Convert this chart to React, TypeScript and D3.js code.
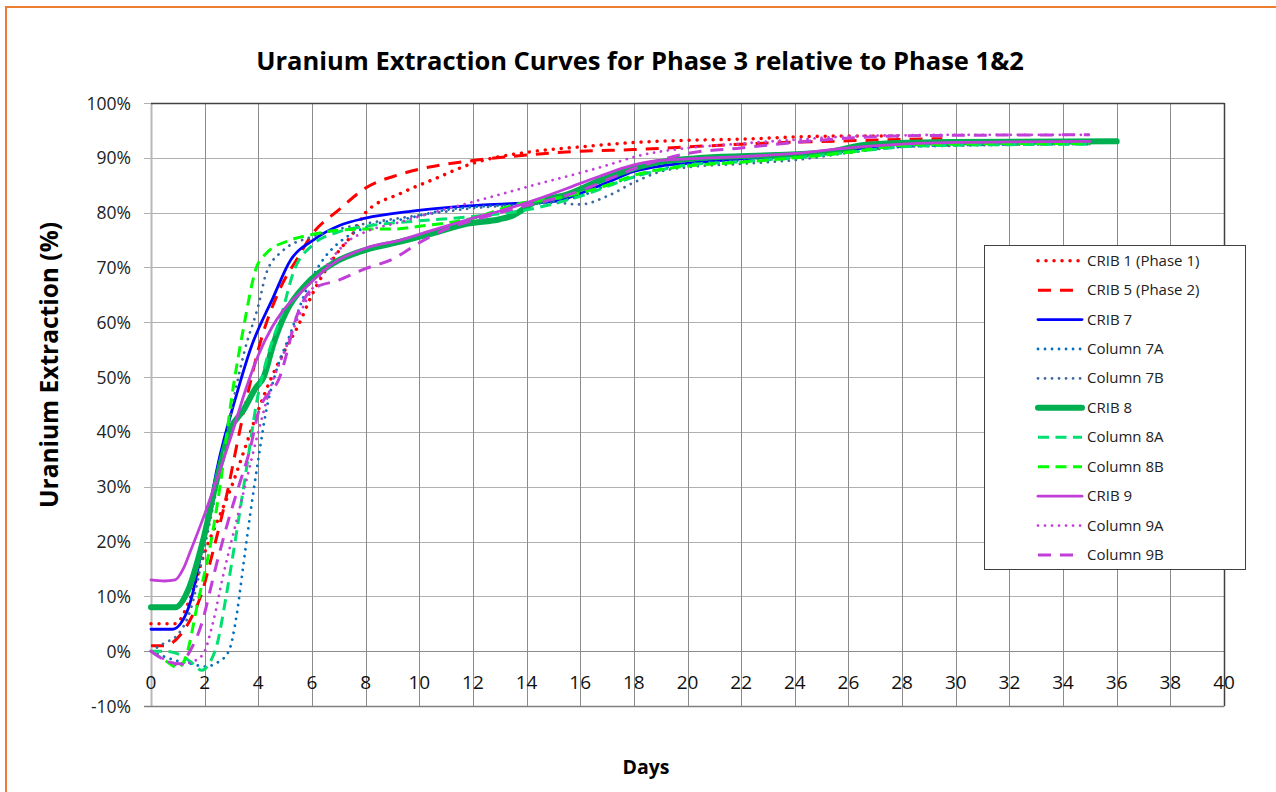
import React from "react";
import * as d3 from "d3";

type Pt = [number, number];

// ---- Data (day, % extraction) ----
const crib1: Pt[] = [[0,5],[0.9,5],[1.45,9.5],[2,18],[2.5,24],[3,30],[3.5,37],[4,44],[4.5,50],[5,55],[5.5,59.5],[6,65],[7,73],[7.5,76],[8,80],[9.3,83.5],[10.5,86],[12,89],[14,91],[16,92],[18,92.8],[20,93.2],[22,93.4],[24,93.8],[26,94],[28,94]];
const crib5: Pt[] = [[0,1],[0.5,1],[1.1,3],[1.45,5.6],[1.85,10],[2.3,18],[2.8,28],[3.3,40],[3.7,49],[4,55],[4.8,66],[5.5,72],[6,76],[7,80.5],[8,84.5],[9.3,87],[10.8,88.7],[12,89.5],[14,90.5],[16,91.2],[18,91.5],[20,92],[23,92.7],[26,93.1],[29.5,93.5]];
const crib7: Pt[] = [[0,4],[0.8,4],[1.1,5],[1.5,9.5],[1.75,15],[2,21],[2.45,33],[3.2,47],[3.7,55],[4.56,64.6],[5.2,71.3],[6.05,75],[7.05,77.7],[8,79],[9.6,80.2],[11,80.9],[12.4,81.4],[13.6,81.7],[15,82],[16,83.5],[17,85.5],[18,87.5],[19,88.5],[20,89],[22,89.8],[24,90.5],[26,91.5],[28,92.5],[30,92.8],[32,92.9],[35,93]];
const col7A: Pt[] = [[0,0],[0.5,-1],[1,-1.8],[1.5,-2.3],[2,-2.8],[2.5,-2],[2.9,0],[3.2,6.8],[3.45,16],[3.7,25],[4,35],[4.3,44],[4.6,50],[5.2,58],[5.8,66],[6.5,72],[7,74.5],[8,77.3],[9.6,79],[11,80.5],[12.5,81.2],[14,81.5],[15,82],[16,83],[17,85],[18,86.5],[19,88],[20,88.8],[22,89.5],[24,90.2],[26,91.2],[28,92],[30,92.3],[32,92.4],[35,92.5]];
const col7B: Pt[] = [[0,0],[0.5,1.5],[1,3],[1.5,8],[2,19],[2.5,31],[3,44],[3.5,55],[4,63],[4.3,69],[4.9,73],[6,75.6],[7,77],[8,78],[10,79.5],[12,80.8],[14,81.5],[15,81.8],[16,81.5],[17,83],[18,85.5],[19,87.5],[20,88.3],[22,88.9],[24,89.6],[26,90.9],[28,92],[30,92.2],[32,92.4],[35,92.5]];
const crib8: Pt[] = [[0,8],[0.9,8],[1.43,11.7],[1.93,20],[2.45,31.2],[2.95,40.4],[3.45,44],[3.9,48],[4.2,50],[4.56,56],[5.05,62],[5.8,67],[6.8,70.8],[8,73.2],[9.3,74.7],[10.5,76.2],[11.8,78],[13,78.8],[13.5,79.5],[14.25,81.8],[15.5,83.3],[16.7,85.8],[18.7,89],[20.6,90],[23.3,90.5],[25.2,91],[26.5,92.3],[27.8,92.7],[29.8,92.9],[36,93]];
const col8A: Pt[] = [[0,0],[0.5,0],[1,-0.5],[1.5,-2],[1.9,-3.5],[2.2,-2],[2.45,1],[2.8,10],[3.2,22],[3.58,34],[3.96,46],[4.3,53],[4.9,62],[5.3,69],[6,74],[7,76.5],[8,77.5],[10,78.5],[12,79.3],[14,80.5],[16,83],[18,86.5],[20,88.7],[22,89.3],[24,90],[26,91],[28,92],[30,92.3],[32,92.4],[35,92.5]];
const col8B: Pt[] = [[0,0],[0.5,-1.6],[1,-3],[1.3,-1],[1.75,9],[2.2,19],[2.6,31],[3,46],[3.45,59],[3.93,70],[4.3,72.6],[5.2,75],[6,76],[7,76.8],[8,77],[9,77],[10,77.5],[12,79],[13.6,81.5],[15.5,83],[17,85],[18,86.8],[20,88.5],[22,89.2],[24,90],[26,91],[28,92.3],[30,92.5],[32,92.6],[35,92.6]];
const crib9: Pt[] = [[0,13],[0.5,12.8],[0.9,13],[1.2,15],[1.45,18],[2,25],[2.5,32],[3,39.4],[3.55,48],[4,54],[4.5,59],[4.9,62],[5.55,65.3],[6.8,70.8],[8,73.5],[9.3,75],[10.5,76.8],[11.8,78.7],[13,80.3],[14.25,82.2],[15.5,84.4],[16.7,86.6],[18,88.7],[18.6,89.3],[20,89.8],[22,90.2],[24,90.8],[26,91.8],[28,92.5],[30,92.8],[32,92.9],[35,93]];
const col9A: Pt[] = [[0,0],[0.5,-1.5],[1,-2.5],[1.5,-2],[1.95,-0.5],[2.3,5],[2.7,14],[3.2,24],[3.6,32],[4,40],[4.45,48],[5,55],[5.5,61],[6,66],[6.5,70],[7.4,75],[8,76.5],[9.3,78.3],[10.5,80],[11.8,81.7],[13,83.3],[14.25,85],[15.5,86.6],[16.7,88.2],[18.3,90.5],[20,91.8],[22,92.6],[24,93.3],[26.5,94],[28,94.1],[30,94.2],[35,94.2]];
const col9B: Pt[] = [[0,0],[0.7,-2],[1.1,-2.3],[1.45,0],[1.82,4],[2.45,16],[2.95,25],[3.33,31],[3.7,37],[4,43.5],[4.8,50],[5.5,62],[6,66],[7,67.7],[8,69.8],[9,71.5],[10,74.5],[11,77],[12,78.6],[13,80],[14,81.3],[15,82.5],[16,84],[17,86],[18,88],[20,90.8],[22,91.8],[24,92.8],[26,93.6],[28,94],[30,94.1],[35,94.2]];

const seriesNames = ["CRIB 1 (Phase 1)","CRIB 5 (Phase 2)","CRIB 7","Column 7A","Column 7B","CRIB 8","Column 8A","Column 8B","CRIB 9","Column 9A","Column 9B"];
const seriesData = [crib1, crib5, crib7, col7A, col7B, crib8, col8A, col8B, crib9, col9A, col9B];

const xTickValues = [0,2,4,6,8,10,12,14,16,18,20,22,24,26,28,30,32,34,36,38,40];
const yTickValues = [-10,0,10,20,30,40,50,60,70,80,90,100];

type Style = { color: string; width: number; dash?: string; cap: "round" | "butt" };
const PURPLE = "#C23ED8";
const styles: Style[] = [
  { color: "#FF0000", width: 3.5, dash: "0.01 8", cap: "round" },
  { color: "#FF0000", width: 3, dash: "13 9", cap: "butt" },
  { color: "#0000FF", width: 2.8, cap: "round" },
  { color: "#0070C0", width: 2.8, dash: "0.01 7", cap: "round" },
  { color: "#3C6AA0", width: 2.8, dash: "0.01 7", cap: "round" },
  { color: "#00B050", width: 6, cap: "round" },
  { color: "#00E070", width: 3, dash: "11 6.5", cap: "butt" },
  { color: "#00FF00", width: 3, dash: "11 6.5", cap: "butt" },
  { color: PURPLE, width: 2.8, cap: "round" },
  { color: PURPLE, width: 2.8, dash: "0.01 7", cap: "round" },
  { color: PURPLE, width: 3, dash: "13 9", cap: "butt" },
];

const FONT = "'Open Sans', 'Noto Sans', sans-serif";

export default function App() {
  const W = 1276, H = 792;
  const x = d3.scaleLinear().domain([0, 40]).range([151, 1224]);
  const y = d3.scaleLinear().domain([-10, 100]).range([706, 103]);
  const line = d3.line<Pt>().x(d => x(d[0])).y(d => y(d[1])).curve(d3.curveMonotoneX);

  const legX = 984.5, legY = 245.5, legW = 261, legH = 324;
  const rowY = (i: number) => 260.7 + i * 29.43;

  return (
    <div style={{ position: "absolute", left: 0, top: 0 }}>
      <svg width={W} height={H} style={{ display: "block", background: "#fff" }}>
        <rect x={0} y={0} width={W} height={H} fill="#fff" />
        <rect x={6} y={7} width={W + 20} height={H + 20} fill="none" stroke="#ED7D31" strokeWidth={2} />

        {/* horizontal gridlines */}
        {yTickValues.map(v => (
          <line key={"h" + v} x1={144} x2={1224} y1={Math.round(y(v)) + 0.5} y2={Math.round(y(v)) + 0.5}
            stroke={v === 0 ? "#8C8C8C" : "#B0B0B0"} strokeWidth={1} />
        ))}
        {/* vertical gridlines */}
        {xTickValues.map(v => (
          <line key={"v" + v} x1={Math.round(x(v)) + 0.5} x2={Math.round(x(v)) + 0.5} y1={103} y2={706}
            stroke={v === 0 ? "#B8B8B8" : "#8C8C8C"} strokeWidth={v === 0 ? 2 : 1} />
        ))}
        {/* plot border */}
        <line x1={151} x2={1224.5} y1={103.5} y2={103.5} stroke="#404040" strokeWidth={1.5} />
        <line x1={1224.5} x2={1224.5} y1={103} y2={706} stroke="#404040" strokeWidth={1.5} />
        <line x1={144} x2={1224.5} y1={706.5} y2={706.5} stroke="#7F7F7F" strokeWidth={1.5} />

        {/* y tick labels */}
        {yTickValues.map(v => (
          <text key={"yl" + v} x={131} y={y(v) + 6.5} textAnchor="end" fontFamily={FONT} fontSize={17.5} fill="#222">
            {v + "%"}
          </text>
        ))}
        {/* x tick labels */}
        {xTickValues.map(v => (
          <text key={"xl" + v} x={x(v)} y={689} textAnchor="middle" fontFamily={FONT} fontSize={19} fill="#111">
            {v}
          </text>
        ))}

        {/* series */}
        {seriesData.map((data, i) => {
          const s = styles[i];
          return (
            <path key={"s" + i} d={line(data) || ""} fill="none" stroke={s.color} strokeWidth={s.width}
              strokeDasharray={s.dash} strokeLinecap={s.cap} strokeLinejoin="round" />
          );
        })}

        {/* titles */}
        <text x={640} y={70} textAnchor="middle" fontFamily={FONT} fontWeight="bold" fontSize={25.5} fill="#000">
          Uranium Extraction Curves for Phase 3 relative to Phase 1&amp;2
        </text>
        <text transform="translate(58,365) rotate(-90)" textAnchor="middle" fontFamily={FONT} fontWeight="bold" fontSize={24.5} fill="#000">
          Uranium Extraction (%)
        </text>
        <text x={646} y={774} textAnchor="middle" fontFamily={FONT} fontWeight="bold" fontSize={19.5} fill="#000">
          Days
        </text>

        {/* legend */}
        <rect x={legX} y={legY} width={legW} height={legH} fill="#fff" stroke="#404040" strokeWidth={1} />
        {seriesNames.map((name, i) => {
          const s = styles[i];
          const yy = rowY(i);
          return (
            <g key={"lg" + i}>
              <line x1={1038} x2={1082} y1={yy} y2={yy} stroke={s.color} strokeWidth={s.width}
                strokeDasharray={s.dash} strokeLinecap={s.cap} />
              <text x={1087} y={yy + 5} fontFamily={FONT} fontSize={15} fill="#222">{name}</text>
            </g>
          );
        })}
      </svg>
    </div>
  );
}
